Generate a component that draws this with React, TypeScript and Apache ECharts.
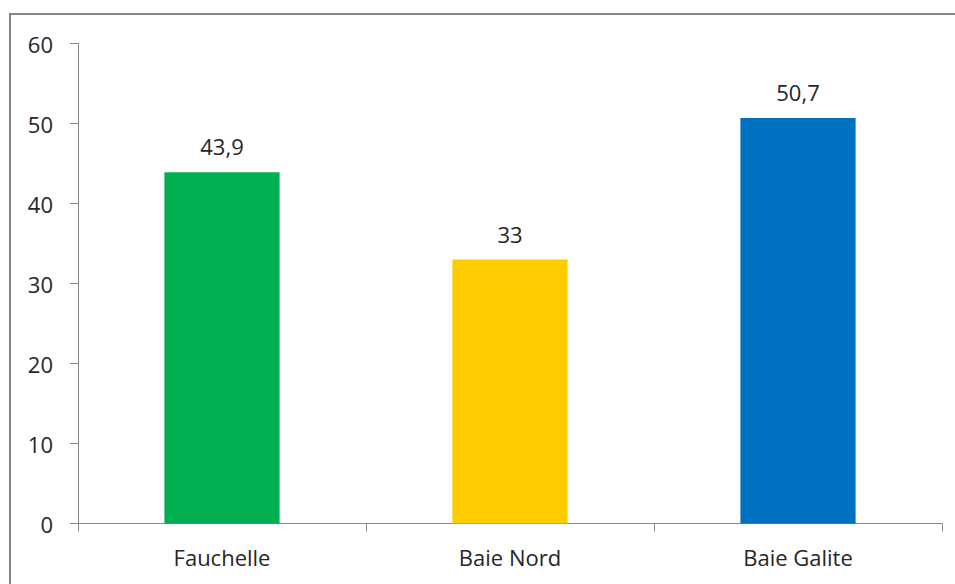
import React, { useEffect, useRef } from "react";
import * as echarts from "echarts";

const categories = ["Fauchelle", "Baie Nord", "Baie Galite"];
const values = [43.9, 33, 50.7];
const barColors = ["#00B050", "#FFCC00", "#0070C0"];
const yTicks = { min: 0, max: 60, interval: 10 };

export default function App() {
  const ref = useRef<HTMLDivElement>(null);
  useEffect(() => {
    if (!ref.current) return;
    const chart = echarts.init(ref.current, null, { renderer: "svg" });
    const font = "Open Sans";
    chart.setOption({
      animation: false,
      backgroundColor: "#ffffff",
      graphic: [
        {
          type: "rect",
          shape: { x: 10, y: 14, width: 980, height: 600 },
          style: { fill: "none", stroke: "#868686", lineWidth: 2 },
          silent: true,
        },
      ],
      grid: { left: 78, top: 43.5, right: 13, bottom: 60.5 },
      xAxis: {
        type: "category",
        data: categories,
        axisLine: { lineStyle: { color: "#868686", width: 1 } },
        axisTick: { show: true, alignWithLabel: false, length: 8, lineStyle: { color: "#868686" } },
        axisLabel: { color: "#262626", fontFamily: font, fontSize: 22, margin: 22 },
      },
      yAxis: {
        type: "value",
        min: yTicks.min,
        max: yTicks.max,
        interval: yTicks.interval,
        splitLine: { show: false },
        axisLine: { show: true, lineStyle: { color: "#868686", width: 1 } },
        axisTick: { show: true, length: 8, lineStyle: { color: "#868686" } },
        axisLabel: { color: "#262626", fontFamily: font, fontSize: 22, margin: 25 },
      },
      series: [
        {
          type: "bar",
          barWidth: "40%",
          data: values.map((v, i) => ({ value: v, itemStyle: { color: barColors[i] } })),
          label: {
            show: true,
            position: "top",
            distance: 15,
            color: "#262626",
            fontFamily: font,
            fontSize: 22,
            formatter: (p: any) => String(p.value).replace(".", ","),
          },
        },
      ],
    });
    return () => chart.dispose();
  }, []);
  return (
    <div
      ref={ref}
      style={{ position: "absolute", left: 0, top: 0, width: 955, height: 584 }}
    />
  );
}
